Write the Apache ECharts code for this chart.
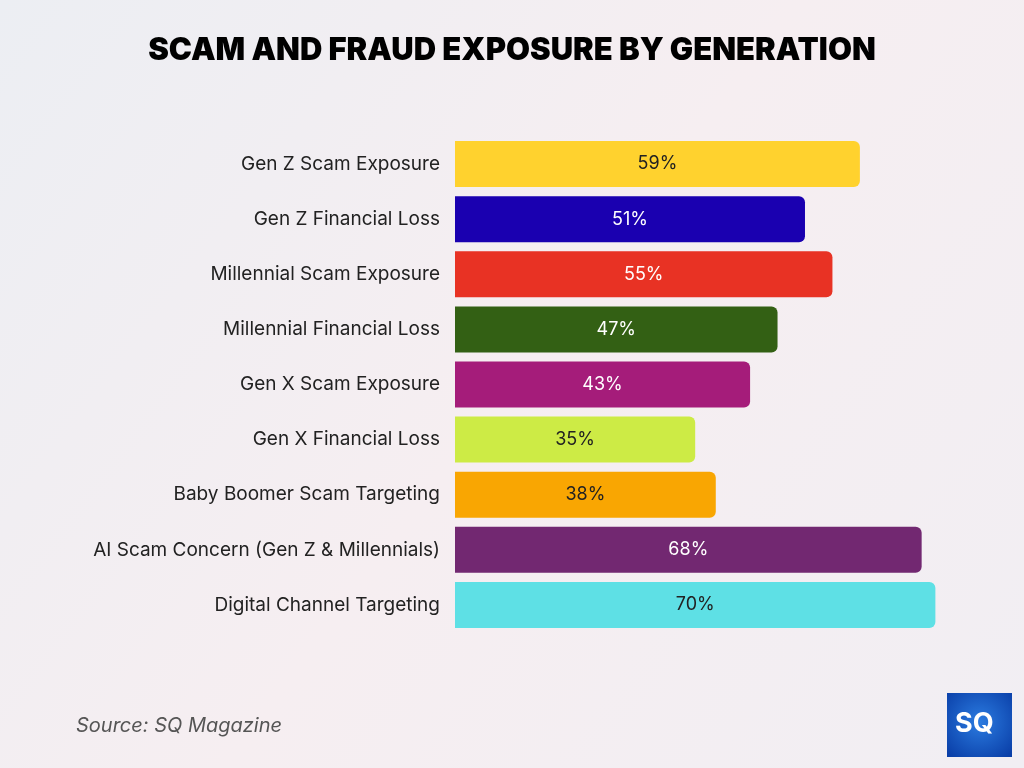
<!DOCTYPE html>
<html>
<head>
<meta charset="utf-8">
<script src="https://cdn.jsdelivr.net/npm/echarts@6/dist/echarts.min.js"></script>
<style>
  html, body { margin: 0; padding: 0; }
  #chart { width: 1024px; height: 768px; }
</style>
</head>
<body>
<div id="chart"></div>
<script>
// Chart data
const categories = [
    'Gen Z Scam Exposure',
    'Gen Z Financial Loss',
    'Millennial Scam Exposure',
    'Millennial Financial Loss',
    'Gen X Scam Exposure',
    'Gen X Financial Loss',
    'Baby Boomer Scam Targeting',
    'AI Scam Concern (Gen Z & Millennials)',
    'Digital Channel Targeting'
];
const values = [59, 51, 55, 47, 43, 35, 38, 68, 70];
const barColors = ['#FFD22E', '#1A00B0', '#E83224', '#336014', '#A51C7A', '#CDEB45', '#F9A602', '#722871', '#5EE0E5'];
const labelColors = ['#222', '#fff', '#fff', '#fff', '#fff', '#222', '#222', '#fff', '#222'];

const chart = echarts.init(document.getElementById('chart'));

const option = {
    backgroundColor: {
        type: 'linear', x: 0, y: 0, x2: 1, y2: 1,
        colorStops: [
            { offset: 0, color: '#eceef3' },
            { offset: 0.5, color: '#f6eef1' },
            { offset: 1, color: '#f1eef3' }
        ]
    },
    title: {
        text: 'SCAM AND FRAUD EXPOSURE BY GENERATION',
        left: 'center',
        top: 30,
        textStyle: {
            fontFamily: 'Inter',
            fontWeight: 900,
            fontSize: 31,
            color: '#000'
        }
    },
    grid: { left: 455, right: 20, top: 136.5, height: 496 },
    xAxis: {
        type: 'value',
        min: 0,
        max: 80,
        show: false
    },
    yAxis: {
        type: 'category',
        inverse: true,
        data: categories,
        axisLine: { show: false },
        axisTick: { show: false },
        axisLabel: {
            margin: 15,
            fontFamily: 'Inter',
            fontSize: 19,
            color: '#222'
        }
    },
    series: [{
        type: 'bar',
        barWidth: 46,
        data: values.map((v, i) => ({
            value: v,
            itemStyle: { color: barColors[i], borderRadius: [0, 6, 6, 0] },
            label: { color: labelColors[i] }
        })),
        label: {
            show: true,
            position: 'inside',
            formatter: '{c}%',
            fontFamily: 'Inter',
            fontSize: 18
        }
    }],
    graphic: [
        {
            type: 'text',
            left: 76,
            top: 716,
            style: {
                text: 'Source: SQ Magazine',
                font: 'italic 20px Inter',
                fill: '#555'
            }
        },
        {
            type: 'rect',
            left: 947,
            top: 693,
            shape: { width: 65, height: 64 },
            style: {
                fill: {
                    type: 'radial', x: 0.5, y: 0.45, r: 0.7,
                    colorStops: [
                        { offset: 0, color: '#2b7be0' },
                        { offset: 1, color: '#0a3fa8' }
                    ]
                }
            }
        },
        {
            type: 'text',
            left: 955,
            top: 710,
            style: {
                text: 'SQ',
                font: 'bold 27px Inter',
                fill: '#fff'
            }
        }
    ]
};

chart.setOption(option);
</script>
</body>
</html>
